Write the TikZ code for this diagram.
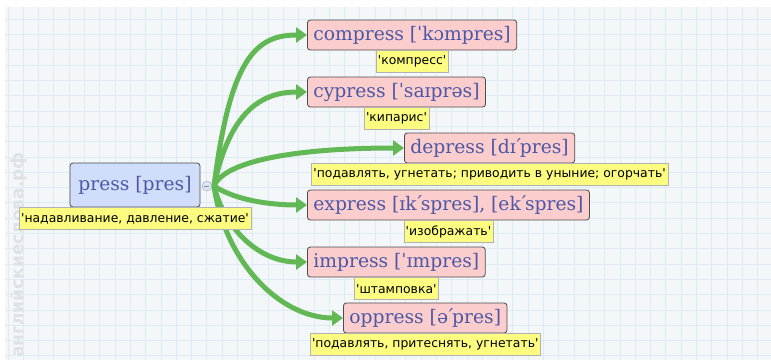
\documentclass[tikz,border=0pt]{standalone}
\usepackage{fontspec}
\usepackage{tikz}
\usetikzlibrary{arrows.meta, positioning}
\setmainfont{DejaVu Serif}
\newfontfamily\glossfont{DejaVu Sans}
\definecolor{gridbg}{RGB}{244, 247, 249}
\definecolor{gridline}{RGB}{222, 236, 242}
\definecolor{wordpink}{RGB}{251, 205, 205}
\definecolor{rootblue}{RGB}{208, 222, 252}
\definecolor{wordink}{RGB}{76, 88, 166}
\definecolor{glossyellow}{RGB}{252, 252, 128}
\definecolor{linkgreen}{RGB}{98, 184, 84}
\definecolor{markgray}{RGB}{222, 226, 229}
\newcommand{\stressmark}{\kern-0.14em ˊ\kern-0.14em}

\tikzset{
  wordbox/.style={draw=black!70, fill=wordpink, rounded corners=3pt, thick,
    text=wordink, font=\fontsize{18.7}{18.7}\selectfont, inner xsep=6pt,
    minimum height=30pt, anchor=west},
  rootbox/.style={wordbox, fill=rootblue, anchor=center,
    minimum width=130pt, minimum height=44pt},
  gloss/.style={draw=black!30, fill=glossyellow, text=black,
    font=\glossfont\fontsize{12.4}{12.4}\selectfont, inner xsep=2pt,
    minimum height=22pt},
  link/.style={line width=5pt, linkgreen,
    -{Triangle[length=11pt, width=15pt]}},
}

\begin{document}
\begin{tikzpicture}[x=1pt, y=1pt]
  \useasboundingbox (0,0) rectangle (771,-360);
  \fill[white] (0,0) rectangle (771,-360);
  \fill[gridbg] (5,-7) rectangle (771,-360);
  \clip (5,-7) rectangle (771,-360);
  \draw[gridline, line width=1pt, shift={(8,-4)}] (-3,-3) grid[step=15.3] (763,-356);

  \node[rotate=90, text=markgray, font=\glossfont\bfseries\fontsize{17}{17}\selectfont] (mark) at (19,-255) {английскиеслова.рф};

  \node[rootbox] (press) at (135,-185) {press [pres]};
  \node[draw=black!35, fill=rootblue!80, circle, inner sep=0pt, minimum size=10pt] (knob) at (207,-186) {};
  \coordinate (hub) at (214,-186);
  \draw[black!45, line width=1pt] (knob.west) ++(2.5,0) -- ++(5,0);

  \node[wordbox] (compress) at (307,-35) {compress [ˈkɔmpres]};
  \node[wordbox] (cypress) at (307,-92) {cypress [ˈsaɪprəs]};
  \node[wordbox] (depress) at (404,-148) {depress [dɪ\stressmark pres]};
  \node[wordbox] (express) at (307,-205) {express [ɪk\stressmark spres], [ek\stressmark spres]};
  \node[wordbox] (impress) at (307,-262) {impress [ˈɪmpres]};
  \node[wordbox] (oppress) at (343,-318) {oppress [ə\stressmark pres]};

  \draw[link] (hub) .. controls (230,-60) and (255,-35) .. (compress.west);
  \draw[link] (hub) .. controls (228,-120) and (255,-92) .. (cypress.west);
  \draw[link] (hub) .. controls (225,-160) and (300,-148) .. (depress.west);
  \draw[link] (hub) .. controls (235,-200) and (270,-205) .. (express.west);
  \draw[link] (hub) .. controls (225,-230) and (260,-262) .. (impress.west);
  \draw[link] (hub) .. controls (225,-262) and (280,-318) .. (oppress.west);

  \node[gloss, below=0pt of press] (pressgloss) {'надавливание, давление, сжатие'};
  \node[gloss, below=0pt of compress] (compressgloss) {'компресс'};
  \node[gloss, below=0pt of cypress] (cypressgloss) {'кипарис'};
  \node[gloss, below=0pt of depress] (depressgloss) {'подавлять, угнетать; приводить в уныние; огорчать'};
  \node[gloss, below=0pt of express] (expressgloss) {'изображать'};
  \node[gloss, below=0pt of impress] (impressgloss) {'штамповка'};
  \node[gloss, below=0pt of oppress] (oppressgloss) {'подавлять, притеснять, угнетать'};
\end{tikzpicture}
\end{document}
